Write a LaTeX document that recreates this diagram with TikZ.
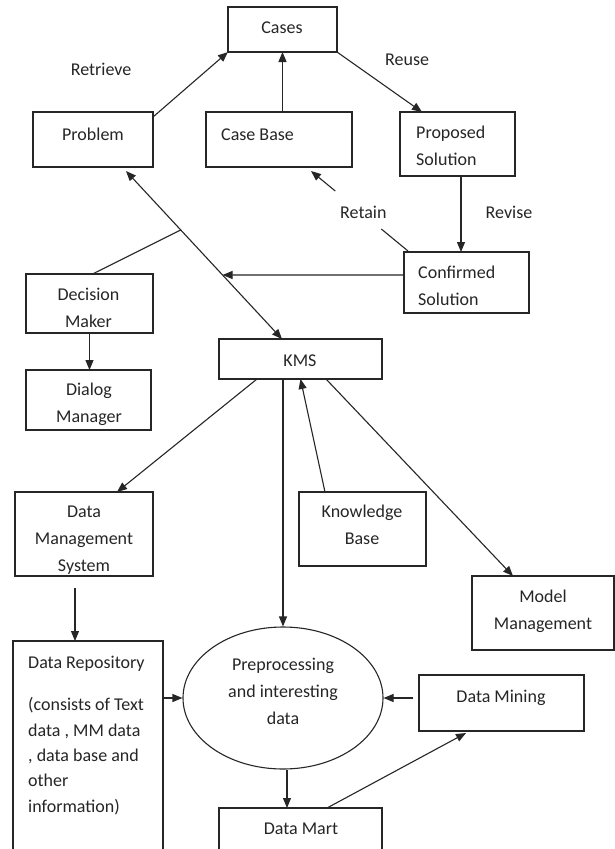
\documentclass[tikz,border=0pt]{standalone}
\usepackage{fontspec}
\setmainfont{Carlito}
\usetikzlibrary{shapes.geometric,arrows.meta,calc}
\begin{document}
\begin{tikzpicture}[x=1pt,y=-1pt,
  box/.style={draw=black!85, line width=1.1pt, inner sep=0pt, outer sep=0pt, anchor=north west},
  txt/.style={inner sep=0pt, anchor=base, align=center, font=\fontsize{18}{27}\selectfont, text=black!85},
  ltxt/.style={txt, anchor=base west, align=left},
  ln/.style={draw=black!85, line width=1.1pt},
  arr/.style={ln, -{Triangle[length=10pt,width=8pt]}},
  arrboth/.style={ln, {Triangle[length=10pt,width=8pt]}-{Triangle[length=10pt,width=8pt]}}]
\clip (0,0) rectangle (615,849);
\fill[white] (0,0) rectangle (615,849);
% boxes
\node[box,minimum width=109pt,minimum height=45pt] (cases) at (228,7) {};
\node[box,minimum width=120pt,minimum height=55pt] (problem) at (33,112) {};
\node[box,minimum width=146pt,minimum height=55pt] (casebase) at (206,112) {};
\node[box,minimum width=115pt,minimum height=64pt] (proposed) at (400,112) {};
\node[box,minimum width=125pt,minimum height=61pt] (confirmed) at (404,252) {};
\node[box,minimum width=127pt,minimum height=59pt] (decision) at (26,274) {};
\node[box,minimum width=125pt,minimum height=60pt] (dialog) at (26,370) {};
\node[box,minimum width=163pt,minimum height=40pt] (kms) at (219,339) {};
\node[box,minimum width=138pt,minimum height=84pt] (dms) at (15,492) {};
\node[box,minimum width=127pt,minimum height=74pt] (kb) at (299,492) {};
\node[box,minimum width=142pt,minimum height=74pt] (mm) at (472,576) {};
\node[box,minimum width=150pt,minimum height=240pt] (dr) at (13,641) {};
\node[draw=black!85, line width=1.1pt, ellipse, inner sep=0pt, minimum width=200pt, minimum height=142pt] (prep) at (283,698) {};
\node[box,minimum width=165pt,minimum height=56pt] (dmining) at (419,675) {};
\node[box,minimum width=163pt,minimum height=60pt] (dmart) at (219,808) {};
% texts (multi-line nodes anchored at the baseline of their last line)
\node[txt] (t-cases) at (282,33) {Cases};
\node[txt] (t-problem) at (93,140) {Problem};
\node[ltxt] (t-casebase) at (221,140) {Case Base};
\node[ltxt] (t-proposed) at (416,165) {Proposed\\Solution};
\node[ltxt] (t-confirmed) at (418,305) {Confirmed\\Solution};
\node[txt] (t-decision) at (88.5,327) {Decision\\Maker};
\node[txt] (t-dialog) at (89,422) {Dialog\\Manager};
\node[txt] (t-kms) at (300,366) {KMS};
\node[txt] (t-dms) at (84,571) {Data\\Management\\System};
\node[txt] (t-kb) at (362,544) {Knowledge\\Base};
\node[txt] (t-mm) at (543,629) {Model\\Management};
\node[ltxt] (t-dr) at (28,668) {Data Repository};
\node[ltxt, font=\fontsize{18}{25.3}\selectfont] (t-drbody) at (28,812) {(consists of Text\\data , MM data\\, data base and\\other\\information)};
\node[txt] (t-prep) at (283,724) {Preprocessing\\and interesting\\data};
\node[txt] (t-dmining) at (501,702) {Data Mining};
\node[txt] (t-dmart) at (301,834) {Data Mart};
\node[ltxt] (l-retrieve) at (70.6,75) {Retrieve};
\node[ltxt] (l-reuse) at (385,65) {Reuse};
\node[ltxt] (l-retain) at (340,218) {Retain};
\node[ltxt] (l-revise) at (485.5,218) {Revise};
% connectors
\draw[arr] ($(problem.north east)+(0,5)$) -- (cases.south west);
\draw[arr] (casebase.north -| cases.south) -- (cases.south);
\draw[arr] (cases.south east) -- ($(proposed.north west)+(22,0)$);
\coordinate (pb) at ($(proposed.south)+(3.5,0)$);
\draw[arr] (pb) -- (pb |- confirmed.north);
\coordinate (rs) at ($(confirmed.north west)+(4,-1)$);
\coordinate (re) at ($(casebase.south west)+(105,4)$);
\draw[ln] (rs) -- ($(rs)!0.275!(re)$);
\draw[arr] ($(rs)!0.75!(re)$) -- (re);
\coordinate (pk1) at ($(problem.south west)+(93,4)$);
\coordinate (pk2) at ($(kms.north)+(-18.5,0)$);
\draw[arrboth] (pk1) -- (pk2);
\coordinate (j1) at ($(pk1)!0.619!(pk2)$);
\coordinate (j2) at ($(pk1)!0.351!(pk2)$);
\coordinate (c1) at ($(confirmed.north west)+(0,23)$);
\draw[arr] (c1) -- (j1);
\draw[ln] ($(decision.north)+(3,0)$) -- (j2);
\draw[arr] (decision.south) -- (decision.south |- dialog.north);
\draw[arr] ($(kms.south west)+(38,0)$) -- ($(dms.north)+(33,0)$);
\draw[arr] (prep.north |- kms.south) -- (prep.north);
\draw[arr] ($(kb.north west)+(26,0)$) -- (kms.south);
\draw[arr] ($(kms.south west)+(107,0)$) -- ($(mm.north west)+(41,0)$);
\coordinate (dd) at ($(dms.south west)+(60,12)$);
\draw[arr] (dd) -- (dd |- dr.north);
\draw[arr] (prep.west -| dr.east) -- (prep.west);
\coordinate (dmw) at (prep.east -| dmining.west);
\draw[arr] ($(dmw)+(-6,0)$) -- (prep.east);
\coordinate (ps) at ($(prep.south)+(4,0)$);
\draw[arr] (ps) -- (ps |- dmart.north);
\draw[arr] ($(dmart.north west)+(108,0)$) -- ($(dmining.south west)+(47,2)$);
\end{tikzpicture}
\end{document}
